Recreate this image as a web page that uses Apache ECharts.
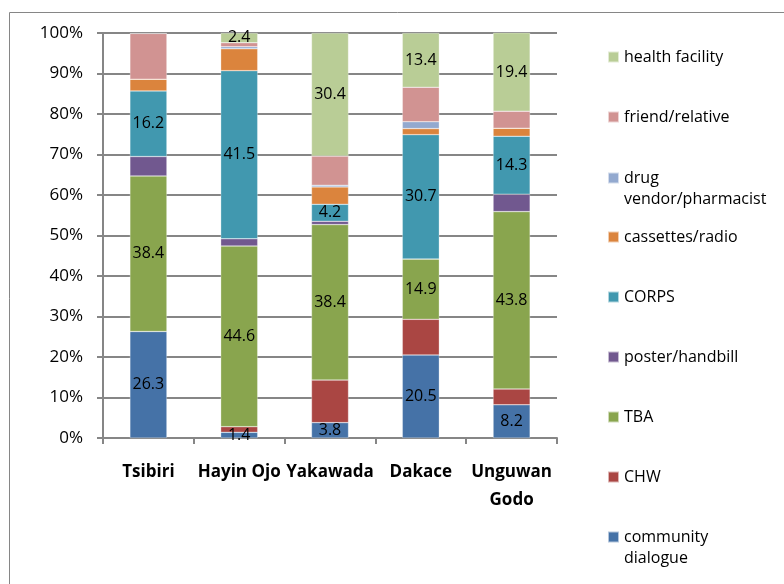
<!DOCTYPE html>
<html>
<head>
<meta charset="utf-8">
<script src="https://cdn.jsdelivr.net/npm/echarts@6/dist/echarts.min.js"></script>
<style>
  html, body { margin: 0; padding: 0; background: #fff; }
  #main { width: 784px; height: 584px; }
</style>
</head>
<body>
<div id="main"></div>
<script>
// villages
const villages = ['Tsibiri', 'Hayin Ojo', 'Yakawada', 'Dakace', 'Unguwan\nGodo'];

// share of each source of information (%), per village
const communityDialogue = [26.3, 1.4, 3.8, 20.5, 8.2];
const chw = [0, 1.4, 10.5, 8.8, 3.9];
const tba = [38.4, 44.6, 38.4, 14.9, 43.8];
const posterHandbill = [4.8, 1.8, 0.8, 0, 4.3];
const corps = [16.2, 41.5, 4.2, 30.7, 14.3];
const cassettesRadio = [2.9, 5.4, 4.3, 1.5, 2.0];
const drugVendor = [0, 0.5, 0.4, 1.7, 0];
const friendRelative = [11.3, 1.0, 7.2, 8.5, 4.2];
const healthFacility = [0, 2.4, 30.4, 13.4, 19.4];

const yTicks = [0, 10, 20, 30, 40, 50, 60, 70, 80, 90, 100];

// bottom to top of the stack
const seriesList = [
  { name: 'community\ndialogue', data: communityDialogue, color: '#4572A7', label: true },
  { name: 'CHW', data: chw, color: '#AA4643', label: false },
  { name: 'TBA', data: tba, color: '#89A54E', label: true },
  { name: 'poster/handbill', data: posterHandbill, color: '#71588F', label: false },
  { name: 'CORPS', data: corps, color: '#4198AF', label: true },
  { name: 'cassettes/radio', data: cassettesRadio, color: '#DB843D', label: false },
  { name: 'drug\nvendor/pharmacist', data: drugVendor, color: '#93A9CF', label: false },
  { name: 'friend/relative', data: friendRelative, color: '#D19392', label: false },
  { name: 'health facility', data: healthFacility, color: '#B9CD96', label: true }
];

const FONT = '"Open Sans", Lato, sans-serif';
const GRAY = '#868686';

// legend: one entry per row, health facility on top (Excel style)
const legendRowsY = [537, 477, 417, 357, 297, 237, 178, 117, 57]; // icon centres, same order as seriesList
let legends = [];
seriesList.forEach(function (s, i) {
  let twoLines = s.name.indexOf('\n') >= 0;
  legends.push({
    data: [s.name],
    left: 602,
    top: twoLines ? legendRowsY[i] - 31.5 - 5 : legendRowsY[i] - 10.5 - 5,
    itemWidth: 11,
    itemHeight: 11,
    icon: 'rect',
    selectedMode: false,
    // empty first line so the icon sits beside the first text line
    formatter: function (name) { return twoLines ? '\n' + name : name; },
    textStyle: {
      fontFamily: FONT,
      fontSize: 16,
      color: '#000',
      lineHeight: 21
    }
  });
});

let chart = echarts.init(document.getElementById('main'), null, { renderer: 'canvas' });

let option = {
  backgroundColor: '#fff',
  animation: false,
  graphic: [{
    type: 'rect',
    shape: { x: 9.5, y: 12.5, width: 2000, height: 2000 },
    style: { fill: null, stroke: GRAY, lineWidth: 1 },
    silent: true,
    z: -10
  }],
  legend: legends,
  grid: { left: 103, right: 227, top: 33, bottom: 146, containLabel: false },
  xAxis: {
    type: 'category',
    data: villages,
    axisLine: { show: true, lineStyle: { color: GRAY, width: 2 } },
    axisTick: { show: true, length: 6, lineStyle: { color: GRAY, width: 2 } },
    axisLabel: {
      fontFamily: FONT,
      fontSize: 17,
      fontWeight: 'bold',
      color: '#000',
      margin: 20,
      lineHeight: 28,
      interval: 0
    }
  },
  yAxis: {
    type: 'value',
    min: 0,
    max: 100,
    interval: 10,
    axisLine: { show: true, lineStyle: { color: GRAY, width: 2 } },
    axisTick: { show: true, length: 6, lineStyle: { color: GRAY, width: 2 } },
    splitLine: { show: true, lineStyle: { color: GRAY, width: 2 } },
    axisLabel: {
      fontFamily: FONT,
      fontSize: 17,
      color: '#000',
      margin: 20,
      formatter: function (v) { return yTicks.indexOf(v) >= 0 ? v + '%' : ''; }
    }
  },
  series: seriesList.map(function (s) {
    return {
      name: s.name,
      type: 'bar',
      stack: 'total',
      barWidth: 37,
      data: s.data,
      itemStyle: { color: s.color, borderColor: 'rgba(255,255,255,0.6)', borderWidth: 0.5 },
      label: {
        show: s.label,
        position: 'inside',
        fontFamily: FONT,
        fontSize: 16,
        color: '#000',
        formatter: function (p) { return p.value > 0 ? p.value.toFixed(1) : ''; }
      }
    };
  })
};

chart.setOption(option);
</script>
</body>
</html>
